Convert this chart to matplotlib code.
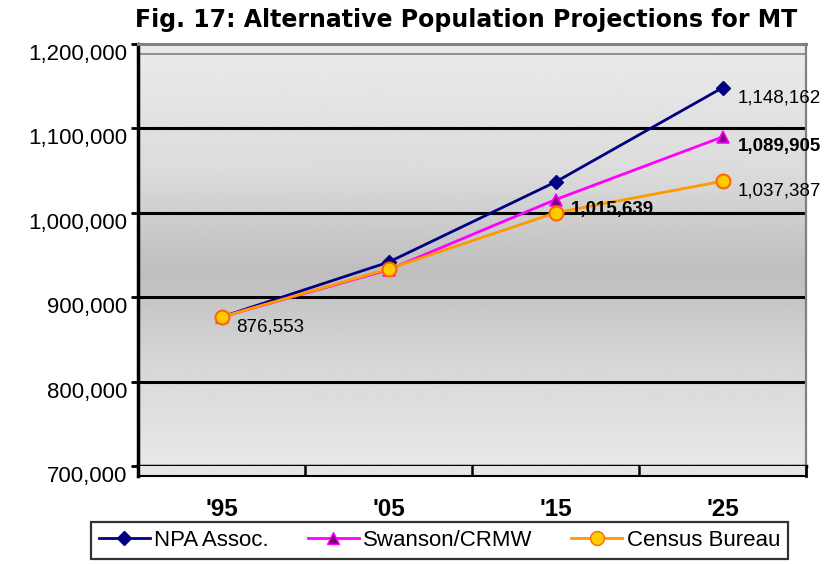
import numpy as np
import matplotlib
matplotlib.use("Agg")
import matplotlib.pyplot as plt
from matplotlib.lines import Line2D
from matplotlib.transforms import ScaledTranslation

plt.rcParams["font.family"] = ["Liberation Sans", "DejaVu Sans"]

# ---- data ----
years = ["'95", "'05", "'15", "'25"]
npa = [876553, 941500, 1036500, 1148162]
swanson = [876553, 932500, 1015639, 1089905]
census = [876553, 933500, 1000000, 1037387]
y_ticks = [700000, 800000, 900000, 1000000, 1100000, 1200000]

NAVY = "#000080"
MAGENTA = "#FF00FF"
PURPLE = "#800080"
ORANGE = "#FF9900"
YELLOW = "#FFCC00"

W, H, DPI = 825, 564, 100
fig = plt.figure(figsize=(W / DPI, H / DPI), dpi=DPI)
fig.patch.set_facecolor("white")

x0, x1 = 138, 806
top, bot, floor_bot = 44, 466, 476
ax = fig.add_axes([x0 / W, 1 - bot / H, (x1 - x0) / W, (bot - top) / H])
x = np.arange(len(years))
ax.set_xlim(-0.5, len(years) - 0.5)
ax.set_ylim(y_ticks[0], y_ticks[-1])

# gradient back wall
frac = np.linspace(0, 1, 256)
shade = np.interp(frac, [0.0, 0.25, 0.46, 0.7, 1.0], [0.91, 0.84, 0.745, 0.86, 0.92])
grad = np.repeat(shade[:, None], 2, axis=1)
ax.imshow(grad, cmap="gray", vmin=0, vmax=1, origin="lower", aspect="auto",
          extent=(-0.5, len(years) - 0.5, y_ticks[0], y_ticks[-1]), zorder=0)

# gridlines
for v in y_ticks[1:-1]:
    ax.axhline(v, color="black", lw=2.2, zorder=1)
span = y_ticks[-1] - y_ticks[0]
ax.axhline(y_ticks[-1] - span * 10 / (bot - top), color="#808080", lw=1.2, zorder=1)

# series
ax.plot(x, npa, color=NAVY, lw=2, marker="D", ms=7.5, mfc=NAVY, mec=NAVY, zorder=3)
ax.plot(x, swanson, color=MAGENTA, lw=2, marker="^", ms=9, mfc=PURPLE, mec=MAGENTA, mew=1.2, zorder=4)
ax.plot(x, census, color=ORANGE, lw=2, marker="o", ms=10, mfc=YELLOW, mec="#FF6600", mew=1.5, zorder=5)

# data labels
def label(xi, yi, bold=False):
    ax.annotate(f"{yi:,}", (xi, yi), xytext=(15, -10), textcoords="offset pixels",
                ha="left", va="center", fontsize=13.5,
                fontweight="bold" if bold else "normal", zorder=6, annotation_clip=False)

label(x[0], npa[0])
label(x[3], npa[3])
label(x[3], swanson[3], bold=True)
label(x[3], census[3])
label(x[2], swanson[2], bold=True)

# spines
ax.spines["left"].set_color("black")
ax.spines["left"].set_linewidth(2.5)
ax.spines["bottom"].set_color("black")
ax.spines["bottom"].set_linewidth(2.5)
ax.spines["top"].set_color("#808080")
ax.spines["top"].set_linewidth(2.2)
ax.spines["right"].set_color("#808080")
ax.spines["right"].set_linewidth(1.6)

ax.set_yticks(y_ticks, [f"{v:,}" for v in y_ticks])
ax.tick_params(axis="y", length=5, width=2, pad=3, labelsize=16)
for t in ax.get_yticklabels():
    t.set_transform(t.get_transform() + ScaledTranslation(0, -8 / DPI, fig.dpi_scale_trans))

ax.set_xticks(x, years)
ax.tick_params(axis="x", length=0, pad=23, labelsize=17.5)
for t in ax.get_xticklabels():
    t.set_fontweight("bold")

# floor strip
fl = fig.add_axes([x0 / W, 1 - floor_bot / H, (x1 - x0) / W, (floor_bot - bot) / H])
fl.set_xlim(ax.get_xlim())
fl.set_ylim(0, 1)
fl.set_facecolor("#e6e6e6")
fl.set_xticks([])
fl.set_yticks([])
fl.spines["top"].set_visible(False)
fl.spines["left"].set_linewidth(2.5)
fl.spines["right"].set_linewidth(2)
fl.spines["bottom"].set_linewidth(1.5)
for b in x[:-1] + 0.5:
    fl.axvline(b, color="black", lw=1.8)

# title
fig.text(466 / W, 1 - 20 / H, "Fig. 17: Alternative Population Projections for MT",
         ha="center", va="center", fontsize=17, fontweight="bold",
         family=["DejaVu Sans"])

# legend
handles = [
    Line2D([], [], color=NAVY, lw=2, marker="D", ms=7.5, mfc=NAVY, mec=NAVY),
    Line2D([], [], color=MAGENTA, lw=2, marker="^", ms=9, mfc=PURPLE, mec=MAGENTA),
    Line2D([], [], color=ORANGE, lw=2, marker="o", ms=10, mfc=YELLOW, mec="#FF6600"),
]
leg = fig.legend(handles, ["NPA Assoc.", "Swanson/CRMW", "Census Bureau"],
                 loc="upper left", bbox_to_anchor=(91 / W, 0, 697 / W, 1 - 522 / H),
                 mode="expand", ncol=3, fontsize=16, frameon=True, fancybox=False,
                 handlelength=2.3, handletextpad=0.2, borderaxespad=0, borderpad=0.35)
leg.get_frame().set_edgecolor("black")
leg.get_frame().set_linewidth(1.6)

fig.savefig("out.png", dpi=DPI)
